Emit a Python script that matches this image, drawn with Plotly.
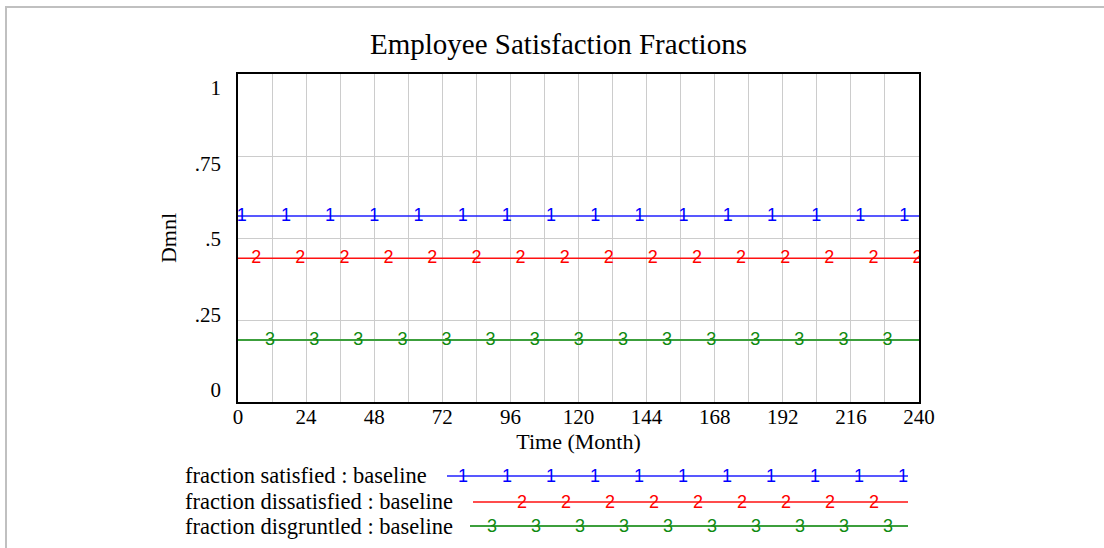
import plotly.graph_objects as go

# ---- data ----
time = [0, 240]
frac_satisfied = [0.567, 0.567]
frac_dissatisfied = [0.438, 0.438]
frac_disgruntled = [0.189, 0.189]

# positions of the series-identifier digits along each line (Month)
sat_marks = [1.3, 16.9, 32.4, 48.0, 63.6, 79.2, 94.7, 110.3, 125.9, 141.5, 157.0, 172.6, 188.2, 203.8, 219.3, 234.8]
dis_marks = [6.4, 21.9, 37.5, 53.0, 68.5, 84.1, 99.6, 115.2, 130.7, 146.2, 161.8, 177.3, 192.9, 208.4, 224.0, 239.5]
grn_marks = [11.3, 26.9, 42.4, 58.0, 73.5, 89.0, 104.6, 120.1, 135.7, 151.2, 166.8, 182.3, 197.8, 213.4, 228.9]

x_ticks = [0, 24, 48, 72, 96, 120, 144, 168, 192, 216, 240]
y_ticks = [0, 0.25, 0.5, 0.75, 1]
y_ticktext = ["0", ".25", ".5", ".75", "1"]

series_names = ["fraction satisfied : baseline",
                "fraction dissatisfied : baseline",
                "fraction disgruntled : baseline"]
series_ids = ["1", "2", "3"]
line_colors = ["#2020ff", "#ff1010", "#3c9f3c"]
text_colors = ["#0000ff", "#ff0000", "#108a10"]
line_widths = [1.5, 1.5, 2]

W, H = 1104, 548
SERIF = "Liberation Serif, Times New Roman, serif"
SANS = "Liberation Sans, Arial, sans-serif"


def px(x):
    return x / W


def py(y):
    return 1 - y / H


fig = go.Figure()

values = [frac_satisfied, frac_dissatisfied, frac_disgruntled]
marks = [sat_marks, dis_marks, grn_marks]
for i in range(3):
    fig.add_trace(go.Scatter(x=time, y=values[i], mode="lines",
                             line=dict(color=line_colors[i], width=line_widths[i]),
                             showlegend=False, hoverinfo="skip"))
    fig.add_trace(go.Scatter(x=marks[i], y=[values[i][0]] * len(marks[i]),
                             mode="text", text=[series_ids[i]] * len(marks[i]),
                             textposition="middle center",
                             textfont=dict(family=SANS, size=18, color=text_colors[i]),
                             cliponaxis=True, showlegend=False, hoverinfo="skip"))

# empty trace that only registers the value-label axis
fig.add_trace(go.Scatter(x=[], y=[], xaxis="x", yaxis="y2", mode="lines",
                         showlegend=False, hoverinfo="skip"))

# Vensim spreads the value labels slightly inside the frame (0 at 12px above
# the bottom, 1 at 14px below the top of a 328px tall frame)
lab_lo = -12 / 302
lab_hi = 1 + 14 / 302

fig.update_layout(
    template="none",
    width=W, height=H,
    margin=dict(l=0, r=0, t=0, b=0, pad=0, autoexpand=False),
    paper_bgcolor="white", plot_bgcolor="white",
    showlegend=False,
    xaxis=dict(domain=[px(238), px(919)], range=[0, 240], automargin=False,
               tickmode="array", tickvals=x_ticks, ticktext=[str(v) for v in x_ticks],
               showgrid=True, gridcolor="#cccccc", gridwidth=1,
               minor=dict(dtick=12, tick0=0, showgrid=True, gridcolor="#cccccc", gridwidth=1),
               showline=True, linecolor="black", linewidth=2, mirror=True,
               ticks="", zeroline=False,
               ticklabelstandoff=-5,
               tickfont=dict(family=SERIF, size=21, color="black"),
               title=dict(text="Time (Month)", font=dict(family=SERIF, size=22, color="black"),
                          standoff=3)),
    # gridline axis (holds the data)
    yaxis=dict(domain=[py(402), py(74)], range=[0, 1], automargin=False,
               tickmode="array", tickvals=y_ticks, showticklabels=False,
               showgrid=True, gridcolor="#cccccc", gridwidth=1,
               showline=True, linecolor="black", linewidth=2, mirror=True,
               ticks="", zeroline=False),
    # value-label axis
    yaxis2=dict(overlaying="y", anchor="x", side="left", range=[lab_lo, lab_hi],
                automargin=False,
                tickmode="array", tickvals=y_ticks, ticktext=y_ticktext,
                showgrid=False, showline=False, ticks="", zeroline=False,
                ticklabelstandoff=16,
                tickfont=dict(family=SERIF, size=21, color="black"),
                title=dict(text="Dmnl", font=dict(family=SERIF, size=22, color="black"),
                           standoff=12)),
)

annotations = [dict(text="Employee Satisfaction Fractions", x=px(558), y=py(44),
                    xref="paper", yref="paper", xanchor="center", yanchor="middle",
                    showarrow=False, font=dict(family=SERIF, size=29, color="black"))]

# legend block (text, then a sample line carrying the series digit)
leg_text_y = [475, 501, 526]
leg_line_y = [476, 502, 526]
leg_line_x0 = [447, 473, 470]
leg_line_x1 = 908
leg_marks_px = [
    [462.7, 506.7, 550.7, 594.7, 638.7, 682.7, 726.7, 770.7, 814.7, 858.7, 902.7],
    [521.7, 565.7, 609.7, 653.7, 697.7, 741.7, 785.7, 829.7, 873.7],
    [491.7, 535.7, 579.7, 623.7, 667.7, 711.7, 755.7, 799.7, 843.7, 887.7],
]
shapes = []
for i in range(3):
    annotations.append(dict(text=series_names[i], x=px(183), y=py(leg_text_y[i]),
                            xref="paper", yref="paper", xanchor="left", yanchor="middle",
                            showarrow=False, font=dict(family=SERIF, size=22.5, color="black")))
    shapes.append(dict(type="line", xref="paper", yref="paper",
                       x0=px(leg_line_x0[i]), x1=px(leg_line_x1),
                       y0=py(leg_line_y[i]), y1=py(leg_line_y[i]),
                       line=dict(color=line_colors[i], width=line_widths[i])))
    for mx in leg_marks_px[i]:
        annotations.append(dict(text=series_ids[i], x=px(mx), y=py(leg_line_y[i]),
                                xref="paper", yref="paper", xanchor="center", yanchor="middle",
                                showarrow=False,
                                font=dict(family=SANS, size=18, color=text_colors[i])))

# outer window frame (top and left edges)
shapes.append(dict(type="path", xref="paper", yref="paper",
                   path=f"M {px(6)},{py(548)} L {px(6)},{py(7)} L {px(1104)},{py(7)}",
                   line=dict(color="#c0c0c0", width=2)))

fig.update_layout(annotations=annotations, shapes=shapes)

fig.write_html("out.html", config={"displayModeBar": False},
               post_script="document.body.style.margin='0';document.body.style.overflow='hidden';")
